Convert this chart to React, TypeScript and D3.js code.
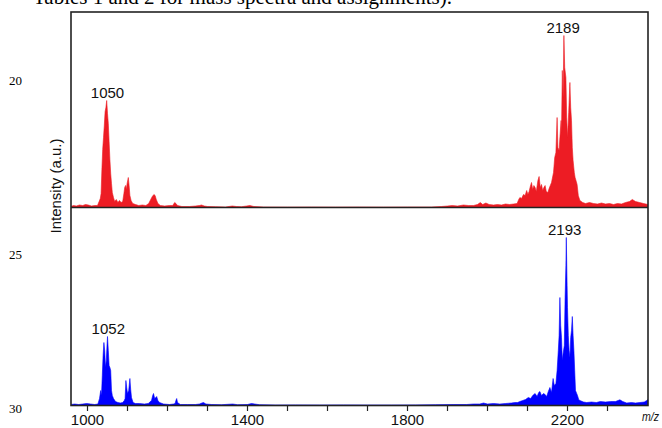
import React from "react";
import * as d3 from "d3";

// ---- data (m/z, intensity in a.u.) ----
const redSpectrum: [number, number][] = [
  [958, 1], [965, 2], [972, 1.5], [980, 2.5], [988, 2], [995, 3], [1002, 2.5], [1010, 1.5], [1018, 2], [1025, 2],
  [1029, 6], [1032, 9], [1034, 14], [1036, 38], [1038, 58], [1040, 70], [1042, 82], [1044, 96], [1046, 100],
  [1048, 107], [1050, 94], [1052, 84], [1054, 66], [1056, 48], [1058, 34], [1060, 24], [1062, 15], [1065, 10],
  [1068, 6], [1072, 8], [1076, 5], [1080, 7], [1084, 5], [1088, 6], [1091, 14], [1093, 20], [1095, 22],
  [1097, 18], [1099, 24], [1102, 30], [1104, 22], [1106, 12], [1109, 7], [1113, 4], [1120, 3], [1128, 2],
  [1137, 2.5], [1146, 2], [1153, 4], [1158, 8], [1162, 11], [1166, 13], [1169, 12], [1172, 8], [1176, 4],
  [1182, 2], [1193, 1.5], [1205, 2], [1213, 2], [1218, 5], [1221, 4], [1225, 2], [1236, 1], [1255, 1],
  [1270, 1.5], [1280, 2], [1285, 2.5], [1292, 1.5], [1300, 1], [1320, 0.8], [1345, 0.5], [1362, 1.5],
  [1372, 1], [1385, 0.8], [1398, 1.5], [1406, 2], [1416, 1], [1440, 0.5], [1500, 0.4], [1560, 0.5],
  [1620, 0.4], [1680, 0.5], [1740, 0.4], [1800, 0.5], [1860, 0.5], [1885, 1], [1900, 1.5], [1912, 2],
  [1925, 1.5], [1940, 2.5], [1952, 2], [1965, 2], [1975, 3], [1982, 5], [1988, 3], [1996, 4.5], [2004, 3],
  [2015, 2.5], [2025, 3], [2035, 2.5], [2045, 3.5], [2055, 3], [2065, 3.5], [2074, 4], [2078, 8], [2081, 10],
  [2085, 9], [2090, 13], [2094, 12], [2098, 17], [2101, 13], [2104, 16], [2107, 21], [2110, 25], [2113, 18],
  [2116, 22], [2119, 20], [2122, 16], [2126, 27], [2129, 31], [2132, 20], [2135, 23], [2138, 17], [2141, 20],
  [2144, 22], [2147, 16], [2151, 15], [2154, 19], [2157, 22], [2160, 25], [2165, 35], [2168, 50], [2171, 55],
  [2174, 90], [2176, 60], [2179, 57], [2181, 70], [2184, 87], [2185, 75], [2187, 137], [2189, 110], [2191, 172],
  [2193, 140], [2196, 130], [2198, 90], [2200, 70], [2203, 95], [2206, 125], [2208, 100], [2210, 87], [2212, 60],
  [2214, 47], [2217, 35], [2219, 30], [2222, 26], [2224, 23], [2227, 12], [2231, 7], [2238, 5], [2245, 4],
  [2255, 5], [2265, 4], [2275, 3.5], [2285, 4.5], [2295, 3.5], [2305, 4], [2315, 3], [2325, 4], [2335, 3.5],
  [2345, 5], [2355, 6], [2362, 8], [2370, 6], [2380, 5], [2390, 4], [2401, 3],
];

const blueSpectrum: [number, number][] = [
  [958, 1], [968, 1.5], [978, 1], [988, 1.5], [998, 2], [1008, 1.5], [1018, 1], [1026, 1.5], [1030, 7],
  [1033, 15], [1035, 10], [1037, 30], [1039, 50], [1041, 63], [1043, 55], [1045, 38], [1047, 45], [1049, 62],
  [1050, 69], [1052, 55], [1054, 40], [1056, 38], [1058, 35], [1060, 15], [1062, 10], [1065, 7], [1070, 4],
  [1076, 3], [1082, 2.5], [1088, 3], [1092, 5], [1094, 7], [1096, 25], [1098, 18], [1100, 12], [1103, 15],
  [1106, 27], [1108, 16], [1110, 8], [1114, 3], [1120, 2], [1130, 2], [1142, 1.5], [1152, 2], [1157, 4],
  [1160, 5], [1163, 10], [1165, 12], [1168, 7], [1171, 8], [1173, 9], [1176, 5], [1180, 3], [1190, 1.5],
  [1205, 1], [1215, 1.5], [1219, 2], [1221, 5], [1223, 7], [1225, 3], [1232, 1], [1250, 1], [1270, 1],
  [1280, 1.5], [1286, 2.5], [1290, 3], [1296, 1.5], [1310, 1], [1335, 0.8], [1363, 1.5], [1375, 0.8],
  [1400, 1], [1410, 2], [1418, 1.5], [1430, 0.8], [1470, 0.5], [1520, 0.6], [1580, 0.5], [1640, 0.6],
  [1700, 0.5], [1760, 0.5], [1820, 0.6], [1870, 0.8], [1914, 1], [1948, 1], [1965, 1.5], [1981, 1.5],
  [1990, 2.5], [2000, 1.5], [2015, 2], [2031, 1.5], [2045, 2], [2060, 2.5], [2068, 3], [2075, 3], [2081, 4],
  [2088, 5], [2095, 6], [2102, 8], [2108, 7], [2113, 10], [2119, 12], [2124, 9], [2128, 13], [2131, 14],
  [2135, 10], [2140, 12], [2144, 11], [2148, 9], [2152, 14], [2156, 18], [2160, 13], [2164, 27], [2167, 20],
  [2171, 22], [2174, 35], [2177, 55], [2179, 70], [2181, 108], [2183, 80], [2185, 68], [2187, 45], [2189, 52],
  [2192, 60], [2194, 108], [2196, 140], [2197, 168], [2199, 120], [2200, 98], [2202, 70], [2204, 55],
  [2206, 48], [2208, 68], [2210, 75], [2212, 89], [2214, 70], [2216, 55], [2218, 35], [2220, 15], [2223, 12],
  [2225, 10], [2228, 6], [2231, 5], [2240, 3.5], [2248, 3], [2260, 3.5], [2272, 3], [2282, 4], [2295, 3.5],
  [2308, 4], [2320, 4], [2331, 5.7], [2338, 4], [2348, 2.5], [2360, 3], [2370, 2.5], [2381, 3], [2392, 3.5],
  [2398, 5], [2401, 6],
];

const redPeakLabels = ["1050", "2189"];
const bluePeakLabels = ["1052", "2193"];
const xTicks = [1000, 1100, 1200, 1300, 1400, 1500, 1600, 1700, 1800, 1900, 2000, 2100, 2200, 2300];
const xTickLabels = [1000, 1400, 1800, 2200];
const lineNumbers = ["20", "25", "30"];
const captionText = "Tables 1 and 2 for mass spectra and assignments).";
const yAxisTitle = "Intensity (a.u.)";
const xAxisTitle = "m/z";

// ---- layout ----
const W = 662;
const H = 428;
const left = 71;
const right = 648;
const top = 12;
const mid = 207.5;
const bottom = 405.5;

const SANS = "'Liberation Sans', Arial, Helvetica, sans-serif";
const SERIF = "'Liberation Serif', 'Times New Roman', serif";

export default function App() {
  const x = d3.scaleLinear().domain([958.75, 2401.25]).range([left, right]);
  const yTop = d3.scaleLinear().domain([0, mid - top]).range([mid, top]);
  const yBot = d3.scaleLinear().domain([0, bottom - mid]).range([bottom, mid]);

  const areaTop = d3
    .area<[number, number]>()
    .x((d) => x(d[0]))
    .y0(mid)
    .y1((d) => yTop(d[1]))
    .curve(d3.curveLinear);
  const areaBot = d3
    .area<[number, number]>()
    .x((d) => x(d[0]))
    .y0(bottom)
    .y1((d) => yBot(d[1]))
    .curve(d3.curveLinear);

  const peakMax = (series: [number, number][], mz: number) =>
    d3.max(series.filter((d) => Math.abs(d[0] - mz) <= 6), (d) => d[1]) || 0;

  const lineNumY = [85, 259, 413];

  return (
    <svg
      width={W}
      height={H}
      style={{ position: "absolute", left: 0, top: 0, background: "#fff" }}
    >
      <rect x={0} y={0} width={W} height={H} fill="#fff" />
      <text x={33} y={4} fontFamily={SERIF} fontSize={21} fill="#000">
        {captionText}
      </text>
      {lineNumbers.map((n, i) => (
        <text key={n} x={9} y={lineNumY[i]} fontFamily={SERIF} fontSize={13} fill="#000">
          {n}
        </text>
      ))}
      <defs>
        <clipPath id="clipTop">
          <rect x={left} y={top} width={right - left} height={mid - top} />
        </clipPath>
        <clipPath id="clipBot">
          <rect x={left} y={mid} width={right - left} height={bottom - mid} />
        </clipPath>
      </defs>
      <path d={areaTop(redSpectrum) || ""} fill="#ED1C24" stroke="#ED1C24" strokeWidth={0.6} clipPath="url(#clipTop)" />
      <path d={areaBot(blueSpectrum) || ""} fill="#0000FF" stroke="#0000FF" strokeWidth={0.6} clipPath="url(#clipBot)" />

      {redPeakLabels.map((l) => (
        <text
          key={l}
          x={x(+l)}
          y={yTop(peakMax(redSpectrum, +l)) - 3}
          textAnchor="middle"
          fontFamily={SANS}
          fontSize={15}
          fill="#111"
        >
          {l}
        </text>
      ))}
      {bluePeakLabels.map((l) => (
        <text
          key={l}
          x={x(+l)}
          y={yBot(peakMax(blueSpectrum, +l)) - 3}
          textAnchor="middle"
          fontFamily={SANS}
          fontSize={15}
          fill="#111"
        >
          {l}
        </text>
      ))}

      {/* frame */}
      <rect x={left} y={top} width={right - left} height={bottom - top} fill="none" stroke="#222" strokeWidth={1.6} />
      <line x1={left} x2={right} y1={mid} y2={mid} stroke="#222" strokeWidth={1.6} />

      {/* x axis ticks */}
      {xTicks.map((t) => (
        <line key={t} x1={x(t)} x2={x(t)} y1={bottom} y2={bottom + 5.5} stroke="#222" strokeWidth={1.2} />
      ))}
      {xTickLabels.map((t) => (
        <text key={t} x={x(t)} y={425} textAnchor="middle" fontFamily={SANS} fontSize={15} fill="#111">
          {t}
        </text>
      ))}
      <text
        x={642}
        y={421}
        fontFamily={SANS}
        fontStyle="italic"
        fontSize={13}
        textLength={17}
        lengthAdjust="spacingAndGlyphs"
        fill="#111"
      >
        {xAxisTitle}
      </text>
      <text
        transform={`translate(61,186) rotate(-90)`}
        textAnchor="middle"
        fontFamily={SANS}
        fontSize={15}
        fill="#111"
      >
        {yAxisTitle}
      </text>
    </svg>
  );
}
